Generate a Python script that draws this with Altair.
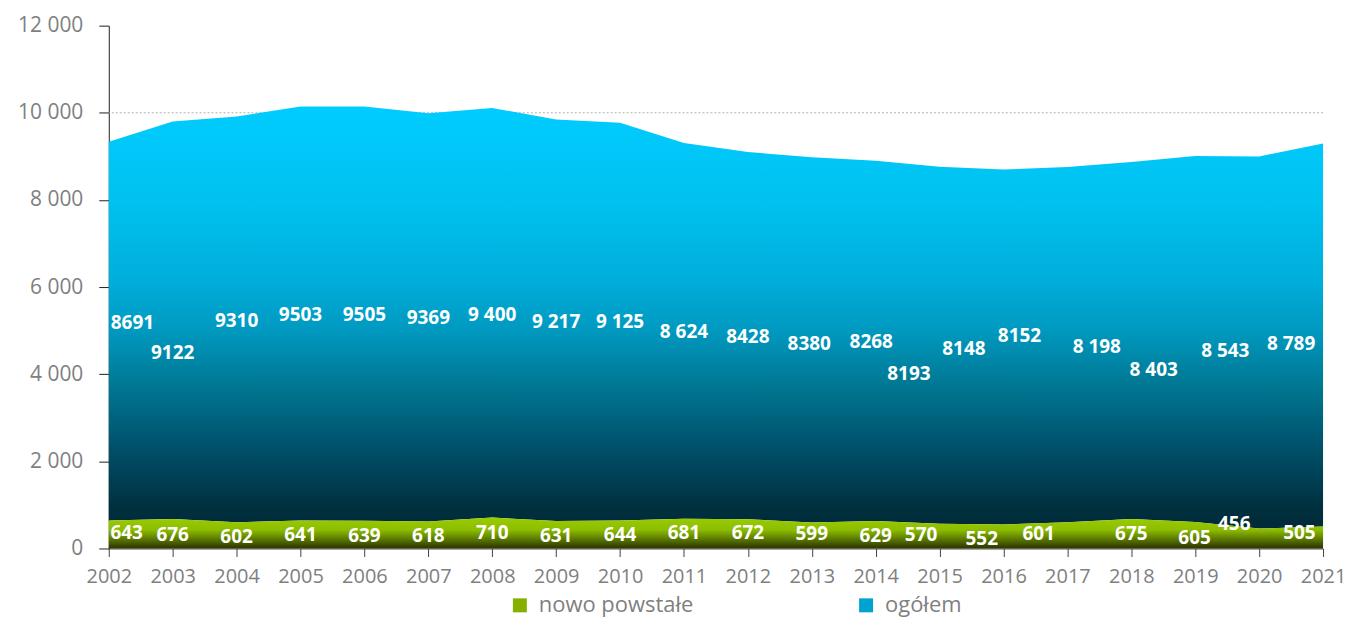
import altair as alt
import pandas as pd

# ---- data ----
years = list(range(2002, 2022))
nowo = [643, 676, 602, 641, 639, 618, 710, 631, 644, 681,
        672, 599, 629, 570, 552, 601, 675, 605, 456, 505]
ogolem = [8691, 9122, 9310, 9503, 9505, 9369, 9400, 9217, 9125, 8624,
          8428, 8380, 8268, 8193, 8148, 8152, 8198, 8403, 8543, 8789]
ogolem_text = ["8691", "9122", "9310", "9503", "9505", "9369", "9 400", "9 217",
               "9 125", "8 624", "8428", "8380", "8268", "8193", "8148", "8152",
               "8 198", "8 403", "8 543", "8 789"]
nowo_text = [str(v) for v in nowo]

# label anchors (in data units) as placed in the original
ogolem_lab_x = [2002.37, 2003.0, 2004.0, 2005.0, 2006.0, 2007.0, 2008.0, 2009.0,
                2010.0, 2011.0, 2012.0, 2012.96, 2013.93, 2014.52, 2015.38,
                2016.25, 2017.46, 2018.35, 2019.47, 2020.5]
ogolem_lab_y = [5175, 4488, 5221, 5359, 5359, 5290, 5359, 5198, 5198, 4969,
                4855, 4694, 4740, 4008, 4580, 4877, 4625, 4100, 4534, 4694]
nowo_lab_x = [2002.28, 2003.0, 2004.0, 2005.0, 2006.0, 2007.0, 2008.0, 2009.0,
              2010.0, 2011.0, 2012.0, 2013.0, 2014.0, 2014.71, 2015.66,
              2016.55, 2018.0, 2018.99, 2019.61, 2020.63]
nowo_lab_y = [366, 298, 252, 298, 275, 275, 366, 275, 298, 344,
              344, 321, 275, 298, 206, 321, 321, 229, 550, 366]

series = ["nowo powstałe", "ogółem"]
legend_colors = ["#86B000", "#00A3D0"]
y_ticks = [0, 2000, 4000, 6000, 8000, 10000, 12000]
grid_at = [10000]

df = pd.DataFrame({"year": years, "nowo": nowo, "ogolem": ogolem})
lab_og = pd.DataFrame({"x": ogolem_lab_x, "y": ogolem_lab_y, "t": ogolem_text})
lab_nw = pd.DataFrame({"x": nowo_lab_x, "y": nowo_lab_y, "t": nowo_text})
leg = pd.DataFrame({"series": series, "year": [2002, 2002], "v": [0, 0]})
grid_df = pd.DataFrame({"g": grid_at})

blue_grad = alt.Gradient(
    gradient="linear", x1=1, x2=1, y1=1, y2=0,
    stops=[alt.GradientStop(color="#002A37", offset=0),
           alt.GradientStop(color="#00303F", offset=0.05),
           alt.GradientStop(color="#00506A", offset=0.19),
           alt.GradientStop(color="#007A96", offset=0.35),
           alt.GradientStop(color="#0099C0", offset=0.47),
           alt.GradientStop(color="#00AEDB", offset=0.59),
           alt.GradientStop(color="#00C2F0", offset=0.78),
           alt.GradientStop(color="#00CCFF", offset=1)])
green_grad = alt.Gradient(
    gradient="linear", x1=1, x2=1, y1=1, y2=0,
    stops=[alt.GradientStop(color="#2A3300", offset=0),
           alt.GradientStop(color="#5A7800", offset=0.3),
           alt.GradientStop(color="#8DBD00", offset=0.6),
           alt.GradientStop(color="#9ACC00", offset=1)])

FONT = "Open Sans"
xs = alt.Scale(domain=[2002, 2021], nice=False, zero=False)
ys = alt.Scale(domain=[0, 12000], nice=False)

x_axis = alt.Axis(values=years, format="d", title=None, labelFont=FONT,
                  labelFontSize=20, labelColor="#7F7F7F", tickColor="#404040",
                  tickSize=8, domainColor="#404040", labelPadding=10, grid=False,
                  labelFlush=False)
y_axis = alt.Axis(values=y_ticks, title=None,
                  labelExpr="replace(format(datum.value, ','), ',', ' ')",
                  labelFont=FONT, labelFontSize=21, labelColor="#7F7F7F",
                  tickColor="#202020", tickSize=10, domainColor="#202020",
                  labelPadding=16, grid=False)

grid = alt.Chart(grid_df).mark_rule(color="#B0B0B0", strokeDash=[2, 2],
                                    strokeWidth=1).encode(
    y=alt.Y("g:Q", scale=ys, axis=y_axis))

base = alt.Chart(df)

blue = base.transform_calculate(top="datum.nowo + datum.ogolem").mark_area(
    fill=blue_grad).encode(
    x=alt.X("year:Q", scale=xs, axis=x_axis),
    y=alt.Y("top:Q", scale=ys, axis=y_axis),
    y2="nowo:Q")

green = base.mark_area(fill=green_grad).encode(
    x=alt.X("year:Q", scale=xs, axis=x_axis),
    y=alt.Y("nowo:Q", scale=ys, axis=y_axis),
    y2=alt.datum(0))

txt_og = alt.Chart(lab_og).mark_text(
    font=FONT, fontWeight="bold", fontSize=19, color="white",
    align="center", baseline="middle").encode(
    x=alt.X("x:Q", scale=xs, axis=x_axis),
    y=alt.Y("y:Q", scale=ys, axis=y_axis), text="t:N")

txt_nw = alt.Chart(lab_nw).mark_text(
    font=FONT, fontWeight="bold", fontSize=19, color="white",
    align="center", baseline="middle").encode(
    x=alt.X("x:Q", scale=xs, axis=x_axis),
    y=alt.Y("y:Q", scale=ys, axis=y_axis), text="t:N")

legend_layer = alt.Chart(leg).mark_square(opacity=0).encode(
    x=alt.X("year:Q", scale=xs, axis=x_axis),
    y=alt.Y("v:Q", scale=ys, axis=y_axis),
    color=alt.Color("series:N",
                    scale=alt.Scale(domain=series, range=legend_colors),
                    legend=alt.Legend(title=None, orient="none", direction="horizontal",
                                      legendX=401, legendY=570,
                                      symbolType="square", symbolSize=196,
                                      symbolOpacity=1, symbolStrokeWidth=0,
                                      labelFont=FONT, labelFontSize=22,
                                      labelLimit=400,
                                      labelColor="#7F7F7F", columnPadding=162,
                                      labelOffset=8)))

chart = alt.layer(grid, blue, green, txt_og, txt_nw, legend_layer).properties(
    width=1217, height=524,
    view=alt.ViewBackground(stroke="transparent", strokeWidth=0),
    autosize=alt.AutoSizeParams(type="none"),
    padding={"left": 101, "top": 17, "right": 23, "bottom": 70},
).configure(
    view=alt.ViewConfig(stroke="transparent", strokeWidth=0),
    style={"cell": {"stroke": "transparent", "strokeWidth": 0}},
)

chart.save("out.html", embed_options={"renderer": "svg", "actions": False})
